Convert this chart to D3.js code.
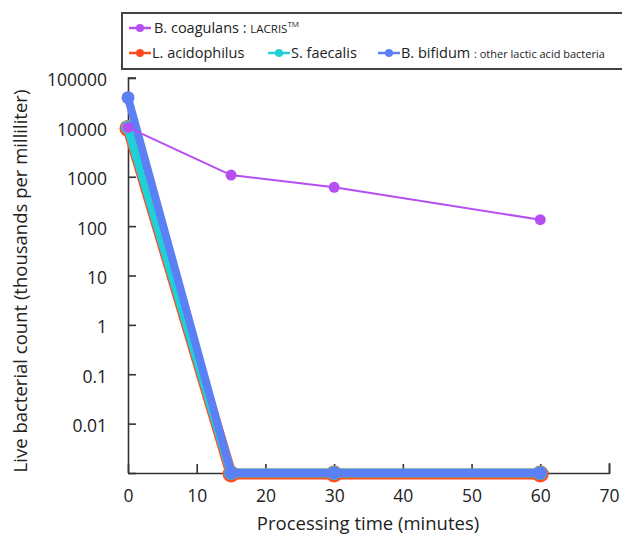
<!DOCTYPE html>
<html><head><meta charset="utf-8">
<script src="https://cdn.jsdelivr.net/npm/d3@7"></script>
<style>body{margin:0;background:#fff}svg{display:block}text{font-family:"Open Sans","DejaVu Sans",sans-serif;fill:#222}</style>
</head><body>
<svg id="c" width="622" height="537"></svg>
<script>
const times = [0, 15, 30, 60];
const coagulans = [10000, 1080, 610, 135];
const acidophilus = [10000, 0.001, 0.001, 0.001];
const faecalis = [10000, 0.001, 0.001, 0.001];
const bifidum = [40000, 0.001, 0.001, 0.001];
const yTicks = [0.001, 0.01, 0.1, 1, 10, 100, 1000, 10000, 100000];
const yTickLabels = ["", "0.01", "0.1", "1", "10", "100", "1000", "10000", "100000"];
const xTicks = [0, 10, 20, 30, 40, 50, 60, 70];

const svg = d3.select("#c");
const x = d3.scaleLinear().domain([0, 70]).range([128, 609]);
const y = d3.scaleLog().domain([0.001, 100000]).range([473, 78]);
const axisColor = "#333";

const gx = svg.append("g").attr("transform", "translate(0,473)")
  .call(d3.axisBottom(x).tickValues(xTicks).tickSize(-9).tickPadding(17).tickFormat(d3.format("d")));
const gy = svg.append("g").attr("transform", "translate(128,0)")
  .call(d3.axisLeft(y).tickValues(yTicks).tickSize(-8).tickPadding(21).tickFormat((d, i) => yTickLabels[i]));
[gx, gy].forEach(g => {
  g.select(".domain").attr("stroke", axisColor).attr("stroke-width", 1.6);
  g.selectAll(".tick line").attr("stroke", axisColor).attr("stroke-width", 1.6);
  g.selectAll(".tick text").attr("font-size", 17.5).attr("fill", "#333")
    .style("font-family", '"Open Sans","DejaVu Sans",sans-serif');
});
gy.selectAll(".tick text").attr("dy", "0.45em");
gx.select(".domain").attr("d", "M128,0.5H609.5V-10");
gy.select(".domain").attr("d", "M8,78H0.5V473");

const series = [
  {name: "acidophilus", vals: acidophilus, color: "#ff4d21", w: 11, r: 8.5, dy: 1},
  {name: "faecalis", vals: faecalis, color: "#1fd0d6", w: 9, r: 7, dy: 0},
  {name: "bifidum", vals: bifidum, color: "#5b80f6", w: 8, r: 6.5, dy: 0},
  {name: "coagulans", vals: coagulans, color: "#b64ff2", w: 2, r: 5.5, dy: 0}
];
const line = d3.line().x(d => x(d[0])).y(d => y(d[1]));
series.forEach(s => {
  const pts = times.map((t, i) => [t, s.vals[i]]);
  const g = svg.append("g").attr("transform", `translate(0,${s.dy})`);
  g.append("path").attr("d", line(pts)).attr("fill", "none")
    .attr("stroke", s.color).attr("stroke-width", s.w).attr("stroke-linejoin", "round");
  g.selectAll("circle").data(pts).join("circle")
    .attr("cx", d => x(d[0])).attr("cy", d => y(d[1])).attr("r", s.r).attr("fill", s.color);
});

svg.append("text").attr("x", 368).attr("y", 530).attr("text-anchor", "middle")
  .attr("font-size", 18.5).text("Processing time (minutes)");
svg.append("text").attr("transform", "translate(27,281) rotate(-90)").attr("text-anchor", "middle")
  .attr("font-size", 18.5).text("Live bacterial count (thousands per milliliter)");

svg.append("rect").attr("x", 122).attr("y", 13).attr("width", 510).attr("height", 56)
  .attr("fill", "#fff").attr("stroke", "#444").attr("stroke-width", 2);
function marker(cx, cy, color) {
  svg.append("line").attr("x1", cx - 11).attr("x2", cx + 11).attr("y1", cy).attr("y2", cy)
    .attr("stroke", color).attr("stroke-width", 2.5);
  svg.append("circle").attr("cx", cx).attr("cy", cy).attr("r", 4).attr("fill", color);
}
marker(140, 28, "#b64ff2");
const t1 = svg.append("text").attr("x", 154).attr("y", 33).attr("font-size", 14.5);
t1.append("tspan").text("B. coagulans : ");
t1.append("tspan").attr("font-size", 11.5).text("LACRIS");
t1.append("tspan").attr("font-size", 8).attr("dy", -6).text("TM");
marker(140, 53, "#ff4d21");
svg.append("text").attr("x", 152).attr("y", 58).attr("font-size", 14.5).text("L. acidophilus");
marker(279, 53, "#1fd0d6");
svg.append("text").attr("x", 291).attr("y", 58).attr("font-size", 14.5).text("S. faecalis");
marker(389, 53, "#5b80f6");
const t2 = svg.append("text").attr("x", 401).attr("y", 58).attr("font-size", 14.5);
t2.append("tspan").text("B. bifidum ");
t2.append("tspan").attr("font-size", 11).text(": other lactic acid bacteria");
</script>
</body></html>
